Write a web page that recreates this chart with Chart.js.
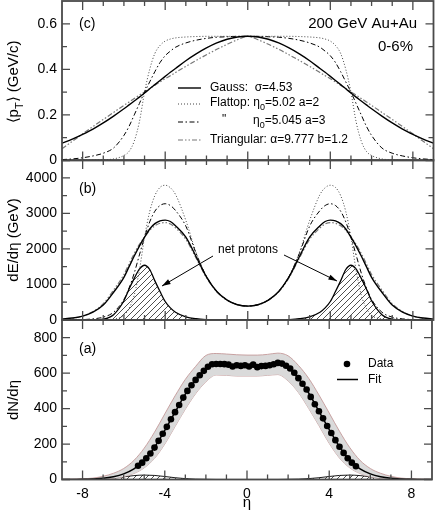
<!DOCTYPE html>
<html>
<head>
<meta charset="utf-8">
<script src="https://cdn.jsdelivr.net/npm/chart.js@4.4.1/dist/chart.umd.min.js"></script>
<style>
  html, body { margin: 0; padding: 0; background: #fff; overflow: hidden; }
  #wrap { position: relative; width: 436px; height: 513px; overflow: hidden; }
  /* canvases stick out 30px above and below so tick labels never push the plot areas */
  #wrap canvas { position: absolute; left: 0; top: -30px; }
</style>
</head>
<body>
<div id="wrap">
  <canvas id="nChart" width="436" height="573"></canvas>
  <canvas id="eChart" width="436" height="573"></canvas>
  <canvas id="ptChart" width="436" height="573"></canvas>
</div>
<script>
// eta grid used by the model curves of panels (c) and (b)
const etaGrid = [-9, -8.5, -8, -7.5, -7, -6.5, -6, -5.75, -5.5, -5.25, -5, -4.75, -4.5, -4.25, -4, -3.75, -3.5, -3, -2.5, -2, -1.5, -1, -0.5,
  0, 0.5, 1, 1.5, 2, 2.5, 3, 3.5, 3.75, 4, 4.25, 4.5, 4.75, 5, 5.25, 5.5, 5.75, 6, 6.5, 7, 7.5, 8, 8.5, 9];

// (c) <pT> vs eta
const ptGauss = [0.076, 0.094, 0.115, 0.138, 0.165, 0.195, 0.227, 0.244, 0.261, 0.278, 0.296, 0.315, 0.333, 0.351, 0.369, 0.387, 0.404, 0.438, 0.468, 0.494, 0.516, 0.532, 0.542,
  0.545, 0.542, 0.532, 0.516, 0.494, 0.468, 0.438, 0.404, 0.387, 0.369, 0.351, 0.333, 0.315, 0.296, 0.278, 0.261, 0.244, 0.227, 0.195, 0.165, 0.138, 0.115, 0.094, 0.076];
const ptFlat2 = [0, 0, 0.001, 0.002, 0.003, 0.007, 0.022, 0.04, 0.085, 0.17, 0.30, 0.40, 0.47, 0.505, 0.524, 0.533, 0.538, 0.542, 0.544, 0.545, 0.545, 0.545, 0.545,
  0.545, 0.545, 0.545, 0.545, 0.545, 0.544, 0.542, 0.538, 0.533, 0.524, 0.505, 0.47, 0.40, 0.30, 0.17, 0.085, 0.04, 0.022, 0.007, 0.003, 0.002, 0.001, 0, 0];
const ptFlat3 = [0.004, 0.007, 0.012, 0.02, 0.032, 0.055, 0.11, 0.15, 0.2, 0.25, 0.30, 0.345, 0.39, 0.43, 0.46, 0.48, 0.497, 0.516, 0.528, 0.536, 0.541, 0.543, 0.545,
  0.545, 0.545, 0.543, 0.541, 0.536, 0.528, 0.516, 0.497, 0.48, 0.46, 0.43, 0.39, 0.345, 0.30, 0.25, 0.2, 0.15, 0.11, 0.055, 0.032, 0.02, 0.012, 0.007, 0.004];
const ptTri = [0.052, 0.084, 0.117, 0.149, 0.180, 0.211, 0.242, 0.257, 0.272, 0.287, 0.301, 0.316, 0.330, 0.345, 0.359, 0.372, 0.386, 0.413, 0.439, 0.464, 0.488, 0.510, 0.530,
  0.545, 0.530, 0.510, 0.488, 0.464, 0.439, 0.413, 0.386, 0.372, 0.359, 0.345, 0.330, 0.316, 0.301, 0.287, 0.272, 0.257, 0.242, 0.211, 0.180, 0.149, 0.117, 0.084, 0.052];

// (b) dE/deta (GeV)
const eGauss = [25, 55, 110, 220, 420, 780, 1200, 1500, 1800, 2080, 2330, 2560, 2710, 2790, 2810, 2770, 2650, 2330, 1780, 1210, 800, 560, 430,
  390, 430, 560, 800, 1210, 1780, 2330, 2650, 2770, 2810, 2790, 2710, 2560, 2330, 2080, 1800, 1500, 1200, 780, 420, 220, 110, 55, 25];
const eFlat2 = [0, 0, 0, 2, 5, 30, 130, 330, 700, 1400, 2330, 3050, 3500, 3730, 3790, 3720, 3530, 2800, 1900, 1230, 810, 565, 435,
  395, 435, 565, 810, 1230, 1900, 2800, 3530, 3720, 3790, 3730, 3500, 3050, 2330, 1400, 700, 330, 130, 30, 5, 2, 0, 0, 0];
const eFlat3 = [1, 4, 11, 32, 80, 220, 580, 900, 1320, 1830, 2330, 2760, 3060, 3220, 3270, 3220, 3080, 2640, 1870, 1220, 805, 562, 432,
  392, 432, 562, 805, 1220, 1870, 2640, 3080, 3220, 3270, 3220, 3060, 2760, 2330, 1830, 1320, 900, 580, 220, 80, 32, 11, 4, 1];
const eTri = [17, 49, 112, 238, 458, 844, 1280, 1580, 1870, 2130, 2330, 2520, 2650, 2720, 2740, 2700, 2590, 2270, 1740, 1190, 790, 555, 428,
  390, 428, 555, 790, 1190, 1740, 2270, 2590, 2700, 2740, 2720, 2650, 2520, 2330, 2130, 1870, 1580, 1280, 844, 458, 238, 112, 49, 17];
const eProton = [0, 0, 2, 5, 25, 150, 540, 870, 1170, 1430, 1540, 1420, 1100, 800, 520, 340, 220, 90, 35, 12, 4, 1, 0,
  0, 0, 1, 4, 12, 35, 90, 220, 340, 520, 800, 1100, 1420, 1540, 1430, 1170, 870, 540, 150, 25, 5, 2, 0, 0];

// (a) dN/deta: measured points
const dataEta = [-5.3, -5.1, -4.9, -4.7, -4.5, -4.3, -4.1, -3.9, -3.7, -3.5, -3.3, -3.1, -2.9, -2.7, -2.5, -2.3, -2.1, -1.9, -1.7, -1.5, -1.3, -1.1, -0.9, -0.7, -0.5, -0.3, -0.1,
  0.1, 0.3, 0.5, 0.7, 0.9, 1.1, 1.3, 1.5, 1.7, 1.9, 2.1, 2.3, 2.5, 2.7, 2.9, 3.1, 3.3, 3.5, 3.7, 3.9, 4.1, 4.3, 4.5, 4.7, 4.9, 5.1, 5.3];
const dataN = [78, 95, 120, 147, 180, 218, 258, 297, 340, 380, 420, 462, 500, 532, 562, 588, 613, 636, 650, 652, 652, 651, 648, 638, 645, 641, 645,
  638, 648, 634, 640, 641, 645, 650, 658, 654, 642, 626, 602, 572, 540, 508, 466, 425, 385, 345, 302, 262, 222, 185, 150, 120, 95, 75];

// (a) fit, its uncertainty band and the net-proton part
const fitEta = [-9, -8.5, -8, -7.5, -7, -6.5, -6, -5.5, -5, -4.5, -4, -3.5, -3, -2.5, -2, -1.5, -1, -0.5, 0, 0.5, 1, 1.5, 2, 2.5, 3, 3.5, 4, 4.5, 5, 5.5, 6, 6.5, 7, 7.5, 8, 8.5, 9];
const fitN = [0, 0, 1, 3, 7, 16, 32, 60, 107, 182, 277, 380, 482, 562, 625, 650, 648, 643, 642, 641, 645, 655, 634, 570, 488, 385, 282, 185, 108, 60, 32, 16, 7, 3, 1, 0, 0];
const bandHigh = [1, 2, 4, 8, 18, 35, 62, 108, 177, 267, 370, 472, 565, 638, 700, 711, 708, 704, 702, 702, 706, 713, 698, 644, 571, 477, 375, 272, 180, 108, 62, 35, 18, 8, 4, 2, 1];
const bandLow = [0, 0, 0, 1, 3, 6, 16, 34, 66, 119, 200, 299, 397, 484, 551, 590, 588, 584, 584, 584, 588, 592, 556, 491, 401, 304, 204, 121, 66, 34, 16, 6, 3, 1, 0, 0, 0];
const nProton = [0, 0, 0, 1, 3, 8, 15, 22, 25, 23, 17, 10, 5, 2, 1, 0, 0, 0, 0, 0, 0, 0, 1, 2, 5, 10, 17, 23, 25, 22, 15, 8, 3, 1, 0, 0, 0];

// axis ticks
const xMajorTicks = [-8, -4, 0, 4, 8];
const xMinorTicks = [-7, -6, -5, -3, -2, -1, 1, 2, 3, 5, 6, 7];
const ptTicks = [0, 0.2, 0.4, 0.6];
const ptMinor = [0.1, 0.3, 0.5];
const eTicks = [0, 1000, 2000, 3000, 4000];
const eMinor = [500, 1500, 2500, 3500];
const nTicks = [0, 200, 400, 600, 800];
const nMinor = [100, 300, 500, 700];

const FONT = '"Liberation Sans", Arial, Helvetica, sans-serif';
const OFF = 30; // canvas offset above the page
const xy = (xs, ys) => xs.map((x, i) => ({ x: x, y: ys[i] }));

// line styles shared by curves and legend
const sGauss = { borderColor: '#000', borderWidth: 1.4, borderDash: [] };
const sFlat2 = { borderColor: '#444', borderWidth: 1, borderDash: [1, 2] };
const sFlat3 = { borderColor: '#000', borderWidth: 1, borderDash: [5, 2.5, 1.5, 2.5] };
const sTri = { borderColor: '#777', borderWidth: 1.2, borderDash: [5, 2, 1.5, 2, 1.5, 2] };

// diagonal hatching
function hatch() {
    const c = document.createElement('canvas');
    c.width = 6; c.height = 6;
    const g = c.getContext('2d');
    g.strokeStyle = '#222';
    g.lineWidth = 0.8;
    g.beginPath();
    g.moveTo(0, 6); g.lineTo(6, 0);
    g.moveTo(-1, 1); g.lineTo(1, -1);
    g.moveTo(5, 7); g.lineTo(7, 5);
    g.stroke();
    return g.createPattern(c, 'repeat');
}

// text with subscripts: parts = [[text, isSub], ...]; y is page coordinate
function rich(ctx, parts, x, y, size, align) {
    const big = size + 'px ' + FONT;
    const small = Math.round(size * 0.72) + 'px ' + FONT;
    let w = 0;
    parts.forEach(p => { ctx.font = p[1] ? small : big; w += ctx.measureText(p[0]).width; });
    let cx = align === 'center' ? x - w / 2 : align === 'right' ? x - w : x;
    ctx.textAlign = 'left';
    ctx.textBaseline = 'middle';
    ctx.fillStyle = '#000';
    parts.forEach(p => {
        ctx.font = p[1] ? small : big;
        ctx.fillText(p[0], cx, p[1] ? y + size * 0.38 : y);
        cx += ctx.measureText(p[0]).width;
    });
}

function yTitle(ctx, parts, cy) {
    ctx.save();
    ctx.translate(14, cy);
    ctx.rotate(-Math.PI / 2);
    rich(ctx, parts, 0, 0, 15, 'center');
    ctx.restore();
}

function arrow(ctx, x1, y1, x2, y2) {
    const a = Math.atan2(y2 - y1, x2 - x1);
    ctx.beginPath();
    ctx.moveTo(x1, y1);
    ctx.lineTo(x2, y2);
    ctx.stroke();
    ctx.beginPath();
    ctx.moveTo(x2, y2);
    ctx.lineTo(x2 - 9 * Math.cos(a - 0.3), y2 - 9 * Math.sin(a - 0.3));
    ctx.lineTo(x2 - 9 * Math.cos(a + 0.3), y2 - 9 * Math.sin(a + 0.3));
    ctx.closePath();
    ctx.fill();
}

// frame with inward ticks on all four sides
const frameTicks = {
    id: 'frameTicks',
    afterDatasetsDraw(chart, args, opts) {
        const { ctx, chartArea: a } = chart;
        const x = chart.scales.x, y = chart.scales.y;
        ctx.save();
        ctx.strokeStyle = '#4a4a4a';
        ctx.lineWidth = 1.3;
        ctx.beginPath();
        xMajorTicks.concat(xMinorTicks).forEach(v => {
            const px = x.getPixelForValue(v);
            const len = xMajorTicks.includes(v) ? 9 : 5;
            ctx.moveTo(px, a.bottom); ctx.lineTo(px, a.bottom - len);
            ctx.moveTo(px, a.top); ctx.lineTo(px, a.top + len);
        });
        opts.yMajor.concat(opts.yMinor).forEach(v => {
            const py = y.getPixelForValue(v);
            const len = opts.yMajor.includes(v) ? 8 : 5;
            ctx.moveTo(a.left, py); ctx.lineTo(a.left + len, py);
            ctx.moveTo(a.right, py); ctx.lineTo(a.right - len, py);
        });
        ctx.stroke();
        ctx.lineWidth = 1.8;
        ctx.strokeRect(a.left, a.top, a.right - a.left, a.bottom - a.top);
        ctx.restore();
    }
};
Chart.register(frameTicks);

// o.top / o.bottom: plot-area edges in page pixels
function panelOptions(o) {
    const H = 513 + 2 * OFF;
    return {
        responsive: false,
        animation: false,
        devicePixelRatio: 1,
        events: [],
        layout: { padding: { left: 0, right: 2.5, top: o.top + OFF, bottom: o.showX ? OFF : H - (o.bottom + OFF) } },
        elements: { point: { radius: 0 }, line: { cubicInterpolationMode: 'monotone', fill: false } },
        plugins: {
            legend: { display: false },
            tooltip: { enabled: false },
            frameTicks: { yMajor: o.yMajor, yMinor: o.yMinor }
        },
        scales: {
            x: {
                type: 'linear', min: -9, max: 9, display: o.showX,
                afterBuildTicks: s => { s.ticks = xMajorTicks.map(v => ({ value: v })); },
                afterFit: s => { if (o.showX) s.height = 513 - o.bottom; },
                grid: { display: false, drawTicks: false },
                border: { display: false },
                ticks: { padding: 6, color: '#000', font: { size: 14, family: FONT }, callback: v => String(v) },
                title: { display: true, text: 'η', color: '#000', font: { size: 15, family: FONT }, padding: { top: 0, bottom: 1 } }
            },
            y: {
                type: 'linear', min: 0, max: o.yMax,
                afterBuildTicks: s => { s.ticks = o.yMajor.map(v => ({ value: v })); },
                afterFit: s => { s.width = 62; },
                grid: { display: false, drawTicks: false },
                border: { display: false },
                ticks: { padding: 5, color: '#000', font: { size: 14, family: FONT }, callback: v => String(v) }
            }
        }
    };
}

const hatchFill = hatch();

// ---- panel (c): <pT> ----
new Chart(document.getElementById('ptChart'), {
    type: 'line',
    data: {
        datasets: [
            Object.assign({ label: 'Gauss', data: xy(etaGrid, ptGauss) }, sGauss),
            Object.assign({ label: 'Flattop a=2', data: xy(etaGrid, ptFlat2) }, sFlat2),
            Object.assign({ label: 'Flattop a=3', data: xy(etaGrid, ptFlat3) }, sFlat3),
            Object.assign({ label: 'Triangular', data: xy(etaGrid, ptTri) }, sTri)
        ]
    },
    options: panelOptions({ top: 1, bottom: 160.5, yMax: 0.7, yMajor: ptTicks, yMinor: ptMinor, showX: false }),
    plugins: [{
        id: 'ptText',
        afterDraw(chart) {
            const ctx = chart.ctx;
            ctx.save();
            ctx.translate(0, OFF);
            rich(ctx, [['(c)', false]], 79, 24, 14, 'left');
            rich(ctx, [['200 GeV Au+Au', false]], 417, 24, 15, 'right');
            rich(ctx, [['0-6%', false]], 413, 47, 15, 'right');
            yTitle(ctx, [['⟨p', false], ['T', true], ['⟩ (GeV/c)', false]], 82);
            // legend
            const rows = [[sGauss, 88], [sFlat2, 104], [sFlat3, 122], [sTri, 140]];
            rows.forEach(r => {
                ctx.strokeStyle = r[0].borderColor;
                ctx.lineWidth = r[0].borderWidth;
                ctx.setLineDash(r[0].borderDash);
                ctx.beginPath();
                ctx.moveTo(178, r[1]);
                ctx.lineTo(201, r[1]);
                ctx.stroke();
            });
            ctx.setLineDash([]);
            rich(ctx, [['Gauss:  σ=4.53', false]], 210, 88, 12, 'left');
            rich(ctx, [['Flattop: η', false], ['0', true], ['=5.02 a=2', false]], 210, 103, 12, 'left');
            rich(ctx, [['"', false]], 222, 120, 12, 'left');
            rich(ctx, [['η', false], ['0', true], ['=5.045 a=3', false]], 253, 121, 12, 'left');
            rich(ctx, [['Triangular: α=9.777 b=1.2', false]], 210, 140, 12, 'left');
            ctx.restore();
        }
    }]
});

// ---- panel (b): dE/deta ----
new Chart(document.getElementById('eChart'), {
    type: 'line',
    data: {
        datasets: [
            Object.assign({ label: 'Gauss', data: xy(etaGrid, eGauss) }, sGauss),
            Object.assign({ label: 'Flattop a=2', data: xy(etaGrid, eFlat2) }, sFlat2),
            Object.assign({ label: 'Flattop a=3', data: xy(etaGrid, eFlat3) }, sFlat3),
            Object.assign({ label: 'Triangular', data: xy(etaGrid, eTri) }, sTri),
            { label: 'net protons', data: xy(etaGrid, eProton), borderColor: '#000', borderWidth: 1.3, fill: 'origin', backgroundColor: hatchFill }
        ]
    },
    options: panelOptions({ top: 160, bottom: 320, yMax: 4500, yMajor: eTicks, yMinor: eMinor, showX: false }),
    plugins: [{
        id: 'eText',
        afterDraw(chart) {
            const ctx = chart.ctx;
            ctx.save();
            ctx.translate(0, OFF);
            rich(ctx, [['(b)', false]], 79, 189, 14, 'left');
            yTitle(ctx, [['dE/dη (GeV)', false]], 240);
            rich(ctx, [['net protons', false]], 248, 250, 12, 'center');
            ctx.strokeStyle = '#000';
            ctx.fillStyle = '#000';
            ctx.lineWidth = 1;
            arrow(ctx, 213, 256, 162, 286);
            arrow(ctx, 284, 255, 337, 281);
            ctx.restore();
        }
    }]
});

// ---- panel (a): dN/deta ----
new Chart(document.getElementById('nChart'), {
    type: 'line',
    data: {
        datasets: [
            { label: 'Data', data: xy(dataEta, dataN), showLine: false, pointRadius: 3.3, pointBackgroundColor: '#000', pointBorderWidth: 0 },
            { label: 'Fit', data: xy(fitEta, fitN), borderColor: '#000', borderWidth: 1.5 },
            { label: 'band high', data: xy(fitEta, bandHigh), borderColor: '#c49a9a', borderWidth: 0.9, fill: '+1', backgroundColor: '#dadada' },
            { label: 'band low', data: xy(fitEta, bandLow), borderColor: '#c49a9a', borderWidth: 0.9 },
            { label: 'net protons', data: xy(fitEta, nProton), borderColor: '#000', borderWidth: 0.9, fill: 'origin', backgroundColor: hatchFill }
        ]
    },
    options: panelOptions({ top: 320, bottom: 479.5, yMax: 900, yMajor: nTicks, yMinor: nMinor, showX: true }),
    plugins: [{
        id: 'nText',
        afterDraw(chart) {
            const ctx = chart.ctx;
            ctx.save();
            ctx.translate(0, OFF);
            rich(ctx, [['(a)', false]], 79, 349, 14, 'left');
            yTitle(ctx, [['dN/dη', false]], 400);
            ctx.fillStyle = '#000';
            ctx.beginPath();
            ctx.arc(347, 364, 3.3, 0, Math.PI * 2);
            ctx.fill();
            ctx.strokeStyle = '#000';
            ctx.lineWidth = 1.5;
            ctx.beginPath();
            ctx.moveTo(337, 379.5);
            ctx.lineTo(358, 379.5);
            ctx.stroke();
            rich(ctx, [['Data', false]], 368, 364, 12, 'left');
            rich(ctx, [['Fit', false]], 368, 380, 12, 'left');
            ctx.restore();
        }
    }]
});
</script>
</body>
</html>
